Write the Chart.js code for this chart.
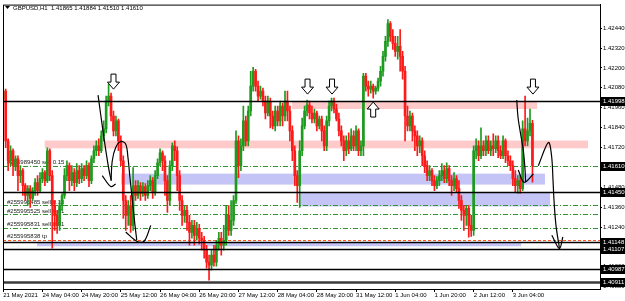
<!DOCTYPE html>
<html><head><meta charset="utf-8">
<script src="https://cdn.jsdelivr.net/npm/chart.js@4.4.1/dist/chart.umd.min.js"></script>
<style>html,body{margin:0;padding:0;background:#fff;overflow:hidden}</style>
</head><body>
<canvas id="c" width="625" height="301"></canvas>
<script>
// ---------- data ----------
const symbol = 'GBPUSD,H1';
const timeLabels = ['21 May 2021','24 May 04:00','24 May 20:00','25 May 12:00','26 May 04:00','26 May 20:00','27 May 12:00','28 May 04:00','28 May 20:00','31 May 12:00','1 Jun 04:00','1 Jun 20:00','2 Jun 12:00','3 Jun 04:00'];
const barsPerLabel = 16;
const priceTicks = [1.42440,1.42320,1.42200,1.42080,1.41960,1.41840,1.41720,1.41600,1.41480,1.41360,1.41240,1.41120,1.41000,1.40880];

const opens = [
1.42012,1.42060,1.41760,1.41640,1.41700,1.41610,1.41652,1.41550,1.41580,1.41490,
1.41430,1.41472,1.41412,1.41460,1.41508,1.41460,1.41532,1.41568,1.41520,1.41700,
1.41550,1.41370,1.41310,1.41250,1.41370,1.41430,1.41550,1.41610,1.41520,1.41568,
1.41508,1.41580,1.41532,1.41592,1.41550,1.41610,1.41520,1.41652,1.41700,1.41730,
1.41700,1.41790,1.41832,1.42000,1.42030,1.41910,1.41820,1.41880,1.41760,1.41640,
1.41400,1.41310,1.41370,1.41250,1.41490,1.41430,1.41490,1.41442,1.41484,1.41430,
1.41490,1.41520,1.41448,1.41550,1.41628,1.41688,1.41640,1.41520,1.41400,1.41610,
1.41730,1.41700,1.41550,1.41400,1.41310,1.41340,1.41268,1.41208,1.41250,1.41190,
1.41232,1.41172,1.41160,1.41100,1.41028,1.41010,1.41070,1.41028,1.41130,1.41172,
1.41130,1.41160,1.41310,1.41220,1.41280,1.41400,1.41760,1.41610,1.41730,1.41880,
1.41760,1.41940,1.42090,1.42180,1.42090,1.42030,1.42060,1.42000,1.41928,1.42000,
1.41910,1.41850,1.41940,1.41880,1.41970,1.41910,1.42000,1.41940,1.41820,1.41700,
1.41550,1.41490,1.41700,1.41850,1.41940,1.41976,1.41928,1.41892,1.41928,1.41850,
1.41892,1.41820,1.41730,1.41880,1.41970,1.42000,1.41952,1.41892,1.41820,1.41760,
1.41700,1.41760,1.41712,1.41790,1.41730,1.41820,1.41700,1.41730,1.42150,1.42090,
1.42072,1.42090,1.42060,1.42078,1.42120,1.42180,1.42270,1.42360,1.42468,1.42390,
1.42348,1.42300,1.42330,1.42270,1.42180,1.41910,1.41850,1.41910,1.41820,1.41790,
1.41730,1.41760,1.41670,1.41610,1.41550,1.41580,1.41520,1.41490,1.41520,1.41550,
1.41580,1.41532,1.41592,1.41520,1.41490,1.41532,1.41472,1.41400,1.41340,1.41310,
1.41352,1.41250,1.41220,1.41700,1.41730,1.41670,1.41730,1.41700,1.41760,1.41700,
1.41730,1.41712,1.41760,1.41700,1.41670,1.41760,1.41670,1.41640,1.41610,1.41532,
1.41490,1.41520,1.41472,1.41832,1.41760,1.41820,1.41865];

const highs = [
1.42078,1.42072,1.41772,1.41730,1.41712,1.41670,1.41670,1.41610,1.41592,1.41502,
1.41490,1.41490,1.41478,1.41532,1.41550,1.41568,1.41592,1.41580,1.41718,1.41712,
1.41580,1.41400,1.41340,1.41400,1.41442,1.41592,1.41640,1.41628,1.41610,1.41592,
1.41622,1.41610,1.41622,1.41610,1.41640,1.41628,1.41670,1.41730,1.41760,1.41772,
1.41820,1.41880,1.42030,1.42102,1.42048,1.41940,1.41910,1.41892,1.41790,1.41670,
1.41430,1.41400,1.41430,1.41598,1.41520,1.41520,1.41508,1.41508,1.41502,1.41520,
1.41550,1.41538,1.41580,1.41652,1.41712,1.41700,1.41670,1.41550,1.41640,1.41748,
1.41760,1.41724,1.41580,1.41430,1.41370,1.41370,1.41310,1.41280,1.41280,1.41268,
1.41256,1.41208,1.41184,1.41130,1.41070,1.41100,1.41130,1.41160,1.41208,1.41208,
1.41250,1.41370,1.41370,1.41400,1.41430,1.41820,1.41790,1.41772,1.41970,1.41910,
1.41970,1.42180,1.42204,1.42192,1.42120,1.42090,1.42078,1.42030,1.42030,1.42018,
1.41940,1.41970,1.41970,1.42000,1.41988,1.42060,1.42060,1.41970,1.41850,1.41730,
1.41580,1.41760,1.41898,1.41970,1.42006,1.42000,1.41970,1.41952,1.41940,1.41910,
1.41910,1.41850,1.41910,1.42000,1.42018,1.42018,1.41982,1.41928,1.41850,1.41790,
1.41790,1.41808,1.41832,1.41820,1.41850,1.41832,1.41760,1.42168,1.42168,1.42120,
1.42120,1.42102,1.42090,1.42138,1.42210,1.42300,1.42390,1.42492,1.42480,1.42432,
1.42390,1.42390,1.42432,1.42300,1.42210,1.41970,1.41940,1.41928,1.41850,1.41820,
1.41790,1.41778,1.41700,1.41640,1.41610,1.41592,1.41550,1.41544,1.41580,1.41622,
1.41610,1.41628,1.41610,1.41550,1.41568,1.41550,1.41520,1.41430,1.41370,1.41370,
1.41370,1.41310,1.41730,1.41772,1.41760,1.41838,1.41760,1.41790,1.41790,1.41760,
1.41802,1.41790,1.41790,1.41730,1.41790,1.41772,1.41700,1.41670,1.41640,1.41580,
1.41550,1.41550,1.41880,1.42030,1.41898,1.41952,1.41884];

const lows = [
1.42000,1.41718,1.41580,1.41610,1.41550,1.41580,1.41460,1.41508,1.41430,1.41400,
1.41370,1.41358,1.41400,1.41430,1.41430,1.41448,1.41508,1.41490,1.41508,1.41520,
1.41112,1.41220,1.41202,1.41220,1.41340,1.41412,1.41520,1.41460,1.41490,1.41460,
1.41484,1.41502,1.41508,1.41520,1.41532,1.41484,1.41502,1.41628,1.41670,1.41670,
1.41688,1.41760,1.41808,1.41970,1.41880,1.41790,1.41790,1.41700,1.41610,1.41292,
1.41220,1.41250,1.41208,1.41220,1.41400,1.41412,1.41400,1.41424,1.41400,1.41412,
1.41460,1.41412,1.41430,1.41532,1.41610,1.41580,1.41430,1.41328,1.41370,1.41580,
1.41640,1.41460,1.41340,1.41250,1.41268,1.41220,1.41130,1.41172,1.41130,1.41160,
1.41136,1.41100,1.41052,1.40992,1.40920,1.40980,1.41004,1.41004,1.41100,1.41070,
1.41100,1.41130,1.41190,1.41190,1.41250,1.41382,1.41538,1.41580,1.41700,1.41730,
1.41730,1.41910,1.42060,1.42060,1.42000,1.42012,1.41970,1.41892,1.41910,1.41838,
1.41832,1.41820,1.41850,1.41850,1.41850,1.41880,1.41880,1.41760,1.41640,1.41490,
1.41388,1.41358,1.41670,1.41832,1.41910,1.41892,1.41868,1.41868,1.41820,1.41832,
1.41760,1.41700,1.41700,1.41850,1.41940,1.41928,1.41880,1.41790,1.41730,1.41640,
1.41670,1.41682,1.41700,1.41700,1.41700,1.41670,1.41670,1.41670,1.42060,1.42030,
1.42048,1.42018,1.42042,1.42060,1.42090,1.42150,1.42240,1.42330,1.42360,1.42312,
1.42270,1.42252,1.42180,1.42132,1.41760,1.41820,1.41820,1.41760,1.41700,1.41670,
1.41688,1.41610,1.41568,1.41520,1.41520,1.41490,1.41460,1.41472,1.41490,1.41520,
1.41508,1.41508,1.41490,1.41430,1.41460,1.41448,1.41352,1.41280,1.41220,1.41250,
1.41178,1.41184,1.41190,1.41652,1.41640,1.41652,1.41670,1.41670,1.41682,1.41670,
1.41670,1.41688,1.41658,1.41652,1.41652,1.41628,1.41610,1.41580,1.41490,1.41448,
1.41442,1.41442,1.41460,1.41730,1.41730,1.41790,1.41510];

const closes = [
1.42060,1.41760,1.41640,1.41700,1.41610,1.41652,1.41550,1.41580,1.41490,1.41430,
1.41472,1.41412,1.41460,1.41508,1.41460,1.41532,1.41568,1.41520,1.41700,1.41550,
1.41370,1.41310,1.41250,1.41370,1.41430,1.41550,1.41610,1.41520,1.41568,1.41508,
1.41580,1.41532,1.41592,1.41550,1.41610,1.41520,1.41652,1.41700,1.41730,1.41700,
1.41790,1.41832,1.42000,1.42030,1.41910,1.41820,1.41880,1.41760,1.41640,1.41400,
1.41310,1.41370,1.41250,1.41490,1.41430,1.41490,1.41442,1.41484,1.41430,1.41490,
1.41520,1.41448,1.41550,1.41628,1.41688,1.41640,1.41520,1.41400,1.41610,1.41730,
1.41700,1.41550,1.41400,1.41310,1.41340,1.41268,1.41208,1.41250,1.41190,1.41232,
1.41172,1.41160,1.41100,1.41028,1.41010,1.41070,1.41028,1.41130,1.41172,1.41130,
1.41160,1.41310,1.41220,1.41280,1.41400,1.41760,1.41610,1.41730,1.41880,1.41760,
1.41940,1.42090,1.42180,1.42090,1.42030,1.42060,1.42000,1.41928,1.42000,1.41910,
1.41850,1.41940,1.41880,1.41970,1.41910,1.42000,1.41940,1.41820,1.41700,1.41550,
1.41490,1.41700,1.41850,1.41940,1.41976,1.41928,1.41892,1.41928,1.41850,1.41892,
1.41820,1.41730,1.41880,1.41970,1.42000,1.41952,1.41892,1.41820,1.41760,1.41700,
1.41760,1.41712,1.41790,1.41730,1.41820,1.41700,1.41730,1.42150,1.42090,1.42072,
1.42090,1.42060,1.42078,1.42120,1.42180,1.42270,1.42360,1.42468,1.42390,1.42348,
1.42300,1.42330,1.42270,1.42180,1.41910,1.41850,1.41910,1.41820,1.41790,1.41730,
1.41760,1.41670,1.41610,1.41550,1.41580,1.41520,1.41490,1.41520,1.41550,1.41580,
1.41532,1.41592,1.41520,1.41490,1.41532,1.41472,1.41400,1.41340,1.41310,1.41352,
1.41250,1.41220,1.41700,1.41730,1.41670,1.41730,1.41700,1.41760,1.41700,1.41730,
1.41712,1.41760,1.41700,1.41670,1.41760,1.41670,1.41640,1.41610,1.41532,1.41490,
1.41520,1.41472,1.41832,1.41760,1.41820,1.41865,1.41610];

// horizontal levels and zones, as [fromBar, toBar, topPrice, bottomPrice]
const levels = [1.41998, 1.41450, 1.41148, 1.41107, 1.40987];
const heavyLevel = 1.40911;
const supplyZones = [[117.9, 217.9, 1.41998, 1.41952], [16.9, 238.7, 1.41762, 1.41715]];
const demandZones = [[48.1, 221.1, 1.41562, 1.41496], [121.1, 223.2, 1.41448, 1.41364], [13.8, 211.4, 1.41145, 1.41124]];
const orderLevels = [1.41610, 1.41370, 1.41316, 1.41236];
const orderTexts = ['#255989450 sell 0.15', '#255995485 sell 0.10', '#255995525 sell 0.01', '#255995831 sell 0.01'];
const tpLevel = 1.41164;
const tpText = '#255995838 tp';
const axisMarks = [1.41998, 1.41610, 1.41450, 1.41148, 1.41107, 1.40987, 1.40911];
// arrows: [bar, tip price]
const downArrows = [[45.0, 1.42072], [124.2, 1.42042], [134.2, 1.42042], [216.2, 1.42042]];
const upArrows = [[151.0, 1.41994]];
// freehand strokes: [bar, price] points
const strokes = [
  [[38.7,1.42036],[41.1,1.41778],[43.2,1.41580],[44.1,1.41520]],
  [[40.4,1.41550],[43.9,1.41484],[45.9,1.41500]],
  [[44.0,1.41520],[44.5,1.41640],[45.9,1.41720],[48.0,1.41756],[50.0,1.41740],[50.9,1.41660],[51.7,1.41540],[52.7,1.41400],[53.7,1.41260],[54.5,1.41160]],
  [[50.0,1.41210],[54.5,1.41154],[57.5,1.41154],[60.2,1.41250]],
  [[209.6,1.42006],[210.1,1.41904],[211.3,1.41790],[212.3,1.41700],[213.0,1.41580],[213.2,1.41510]],
  [[210.2,1.41584],[212.6,1.41510],[216.4,1.41560]],
  [[218.4,1.41610],[222.5,1.41750],[223.8,1.41670],[224.4,1.41520],[224.8,1.41400],[225.6,1.41250],[227.0,1.41114]],
  [[223.9,1.41190],[227.0,1.41110],[228.4,1.41180]]
];

// ---------- styles ----------
const UP = '#1e9a1e', DOWN = '#ff1a1a';
const PINK = '#ffcaca', BLUE = '#c4c4f7';
const FONT = '"Liberation Sans", Arial, sans-serif';

const barColors = opens.map((o,i) => closes[i] >= o ? UP : DOWN);

const datasets = [
  { type:'bar', data: opens.map((o,i)=>({x:i, y:[lows[i], highs[i]]})), backgroundColor: barColors, barThickness: 1, grouped:false, borderWidth:0, order:2 },
  { type:'bar', data: opens.map((o,i)=>({x:i, y:[o, closes[i]]})), backgroundColor: barColors, barThickness: 2, grouped:false, borderWidth:0, order:1 },
  ...strokes.map(s => ({ type:'line', data: s.map(p=>({x:p[0], y:p[1]})), borderColor:'#000', borderWidth:1.2, pointRadius:0, tension:0.35, fill:false, order:0 }))
];

function arrowPath(ctx, cx, tipY, dir){
  const hw = 6, sw = 2.5, headH = 7, total = 15;
  ctx.beginPath();
  if (dir > 0) { // down
    const top = tipY - total;
    ctx.moveTo(cx - sw, top); ctx.lineTo(cx + sw, top); ctx.lineTo(cx + sw, tipY - headH);
    ctx.lineTo(cx + hw, tipY - headH); ctx.lineTo(cx, tipY); ctx.lineTo(cx - hw, tipY - headH);
    ctx.lineTo(cx - sw, tipY - headH); ctx.closePath();
  } else {
    const bot = tipY + total;
    ctx.moveTo(cx - sw, bot); ctx.lineTo(cx + sw, bot); ctx.lineTo(cx + sw, tipY + headH);
    ctx.lineTo(cx + hw, tipY + headH); ctx.lineTo(cx, tipY); ctx.lineTo(cx - hw, tipY + headH);
    ctx.lineTo(cx - sw, tipY + headH); ctx.closePath();
  }
  ctx.fillStyle = '#fff'; ctx.fill();
  ctx.strokeStyle = '#000'; ctx.lineWidth = 1; ctx.stroke();
}

const overlay = {
  id:'overlay',
  beforeDatasetsDraw(chart){
    const {ctx, chartArea:a, scales:{x, y}} = chart;
    ctx.save();
    ctx.beginPath(); ctx.rect(a.left, a.top, a.right-a.left, a.bottom-a.top); ctx.clip();
    const rect = (z, col) => {
      const x0 = x.getPixelForValue(z[0]), x1 = x.getPixelForValue(z[1]);
      const y0 = y.getPixelForValue(z[2]), y1 = y.getPixelForValue(z[3]);
      ctx.fillStyle = col; ctx.fillRect(x0, y0, x1-x0, y1-y0);
    };
    supplyZones.forEach(z => rect(z, PINK));
    demandZones.forEach(z => rect(z, BLUE));
    const hline = (v, col, w, dash) => {
      const yy = Math.round(y.getPixelForValue(v)) + (w % 2 ? 0.5 : 0);
      ctx.beginPath(); ctx.setLineDash(dash || []); ctx.strokeStyle = col; ctx.lineWidth = w;
      ctx.moveTo(a.left, yy); ctx.lineTo(a.right, yy); ctx.stroke();
    };
    orderLevels.forEach(v => hline(v, '#2f952f', 1, [5,2,1,2]));
    hline(tpLevel, '#ff5522', 1, [3,2]);
    ctx.setLineDash([]);
    ctx.font = '6px ' + FONT; ctx.fillStyle = '#222'; ctx.textBaseline = 'alphabetic'; ctx.textAlign = 'left';
    orderLevels.forEach((v,k) => ctx.fillText(orderTexts[k], a.left + 4, y.getPixelForValue(v) - 1.5));
    ctx.fillText(tpText, a.left + 4, y.getPixelForValue(tpLevel) - 1.5);
    ctx.restore();
  },
  afterDatasetsDraw(chart){
    const {ctx, chartArea:a, scales:{x, y}} = chart;
    ctx.save();
    ctx.beginPath(); ctx.rect(a.left, a.top, a.right-a.left, a.bottom-a.top); ctx.clip();
    const hline = (v, col, w) => {
      const yy = Math.round(y.getPixelForValue(v)) + (w % 2 ? 0.5 : 0);
      ctx.beginPath(); ctx.strokeStyle = col; ctx.lineWidth = w;
      ctx.moveTo(a.left, yy); ctx.lineTo(a.right, yy); ctx.stroke();
    };
    levels.forEach(v => hline(v, '#000', 1.3));
    hline(heavyLevel, '#3a3a3a', 2.4);
    downArrows.forEach(p => arrowPath(ctx, x.getPixelForValue(p[0]), y.getPixelForValue(p[1]), 1));
    upArrows.forEach(p => arrowPath(ctx, x.getPixelForValue(p[0]), y.getPixelForValue(p[1]), -1));
    ctx.restore();
  },
  afterDraw(chart){
    const {ctx, chartArea:a, scales:{y}} = chart;
    ctx.save();
    // frame
    ctx.strokeStyle = '#000'; ctx.lineWidth = 1;
    ctx.strokeRect(a.left + 0.5, a.top + 0.5, a.right - a.left, a.bottom - a.top);
    // price marks on axis
    ctx.font = '6px ' + FONT; ctx.textBaseline = 'middle'; ctx.textAlign = 'left';
    axisMarks.forEach(v => {
      const yy = y.getPixelForValue(v);
      ctx.fillStyle = '#000'; ctx.fillRect(a.right + 1, Math.round(yy) - 4, 24, 9);
      ctx.fillStyle = '#fff'; ctx.fillText(v.toFixed(5), a.right + 3, Math.round(yy) + 0.5);
    });
    // title
    const n = opens.length - 1;
    ctx.fillStyle = '#000';
    ctx.beginPath(); ctx.moveTo(5, 6); ctx.lineTo(10, 6); ctx.lineTo(7.5, 9); ctx.closePath(); ctx.fill();
    ctx.font = '6px ' + FONT; ctx.textBaseline = 'middle';
    ctx.fillText(symbol + '  ' + [opens[n], highs[n], lows[n], closes[n]].map(v => v.toFixed(5)).join(' '), 13, 8);
    ctx.restore();
  }
};

new Chart(document.getElementById('c'), {
  type: 'bar',
  data: { datasets },
  plugins: [overlay],
  options: {
    responsive: false, animation: false, devicePixelRatio: 1,
    layout: { autoPadding: false, padding: { left: 3, top: 3, right: 0, bottom: 0 } },
    plugins: { legend: { display: false }, tooltip: { enabled: false }, title: { display: false } },
    scales: {
      x: {
        type: 'linear', position: 'bottom', min: -0.1, max: 243.57, offset: false,
        grid: { display: true, drawOnChartArea: false, drawTicks: true, tickLength: 3, color: '#000', offset: false },
        border: { display: true, color: '#000' },
        afterBuildTicks: s => { s.ticks = timeLabels.map((t,k) => ({ value: k * barsPerLabel })); },
        afterFit: s => { s.height = 12; },
        ticks: { autoSkip: false, maxRotation: 0, align: 'start', padding: 0, color: '#000', font: { family: FONT, size: 6 },
          callback: (v, idx) => timeLabels[idx] }
      },
      y: {
        type: 'linear', position: 'right', min: 1.40866, max: 1.42582,
        grid: { display: true, drawOnChartArea: false, drawTicks: true, tickLength: 2, color: '#000' },
        border: { display: true, color: '#000' },
        afterBuildTicks: s => { s.ticks = priceTicks.map(v => ({ value: v })); },
        afterFit: s => { s.width = 25; },
        ticks: { autoSkip: false, padding: 1, color: '#000', font: { family: FONT, size: 6 },
          callback: v => v.toFixed(5) }
      }
    }
  }
});
</script>
</body></html>
